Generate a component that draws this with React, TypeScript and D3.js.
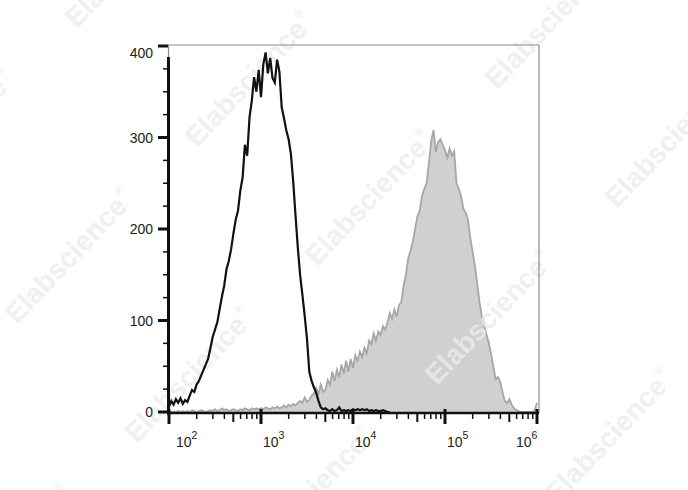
import React from 'react';
import * as d3 from 'd3';

// Histogram bins on a log10 axis: bin i sits at 10^(LOG_START + i*LOG_STEP)
const LOG_START = 2;
const LOG_STEP = 0.025;

// Isotype control (black line)
const blackCounts = [
  6, 12, 8, 14, 10, 15, 9, 13, 11, 18,
  24, 22, 30, 34, 40, 46, 52, 58, 70, 82,
  90, 98, 112, 126, 138, 156, 165, 178, 195, 210,
  220, 242, 256, 292, 280, 322, 340, 366, 350, 374,
  344, 380, 393, 370, 387, 365, 360, 385, 372, 333,
  321, 308, 298, 282, 252, 215, 180, 150, 128, 105,
  80, 44, 34, 27, 21, 12, 5, 3, 4, 2,
  1, 3, 1, 2, 5, 1, 2, 1, 2, 1,
  3, 2, 3, 2, 3, 2, 3, 1, 2, 1,
  2, 1, 1, 2, 1, 0, 0,
];

// Stained sample (gray filled)
const grayCounts = [
  0, 0, 0, 0, 1, 0, 1, 0, 1, 0,
  2, 1, 0, 1, 2, 1, 0, 1, 2, 1,
  3, 1, 2, 4, 2, 3, 1, 2, 3, 2,
  1, 3, 2, 4, 3, 2, 4, 3, 4, 3,
  4, 3, 5, 4, 3, 5, 4, 6, 4, 5,
  7, 5, 8, 6, 9, 7, 10, 12, 10, 16,
  11, 13, 18, 20, 26, 20, 30, 22, 24, 35,
  30, 44, 34, 46, 38, 52, 42, 56, 44, 58,
  48, 62, 56, 66, 60, 70, 64, 78, 74, 86,
  78, 88, 84, 94, 90, 98, 108, 102, 112, 104,
  117, 120, 138, 150, 168, 176, 186, 200, 214, 220,
  236, 244, 250, 272, 296, 308, 284, 295, 298, 292,
  286, 278, 288, 280, 285, 250, 244, 236, 222, 218,
  210, 190, 175, 160, 140, 120, 105, 95, 85, 76,
  64, 50, 36, 38, 33, 22, 12, 10, 14, 8,
  4, 2, 1, 0, 0, 0, 0, 0, 0, 2,
  10,
];

const yMajorTicks = [0, 100, 200, 300, 400];
const yMinorTicks = [25, 50, 75, 125, 150, 175, 225, 250, 275, 325, 350, 375];
const xDecades = [2, 3, 4, 5, 6];
const xMinorMultipliers = [2, 3, 4, 5, 6, 7, 8, 9];

const WATERMARK = 'Elabscience';
const FONT = "'Liberation Sans', Arial, Helvetica, sans-serif";

export default function App() {
  const W = 688;
  const H = 490;
  const left = 168;
  const right = 539;
  const top = 45;
  const bottom = 413;

  const x = d3.scaleLog().domain([1e2, 1e6]).range([169, 537]);
  const y = d3.scaleLinear().domain([0, 400]).range([412, 46]);

  const toPts = (arr: number[]) =>
    arr.map((v, i) => [Math.pow(10, LOG_START + i * LOG_STEP), v] as [number, number]);

  const line = d3
    .line<[number, number]>()
    .x((d) => x(d[0]))
    .y((d) => y(d[1]));
  const area = d3
    .area<[number, number]>()
    .x((d) => x(d[0]))
    .y0(y(0) + 2)
    .y1((d) => y(d[1]));

  const grayPts = toPts(grayCounts);
  const blackPts = toPts(blackCounts);

  // watermark lattice (only those that show at least partly)
  const wm: [number, number][] = [];
  for (let i = -3; i <= 6; i++) {
    for (let j = -3; j <= 3; j++) {
      const px = 197 + i * 120 + j * 300;
      const py = 148 + i * 119 - j * 58;
      const ex = px + 125;
      const ey = py - 132;
      const visible = ex > 0 && px < W && py > 0 && ey < H;
      if (visible) wm.push([px, py]);
    }
  }

  const xMinor: { v: number; mid: boolean }[] = [];
  xDecades.slice(0, -1).forEach((d) =>
    xMinorMultipliers.forEach((k) => xMinor.push({ v: k * Math.pow(10, d), mid: k === 5 }))
  );

  return (
    <svg
      width={W}
      height={H}
      style={{ position: 'absolute', left: 0, top: 0, background: '#fff' }}
      fontFamily={FONT}
    >
      <defs>
        <clipPath id="plotclip">
          <rect x={left} y={top} width={right - left} height={bottom - top} />
        </clipPath>
      </defs>
      <rect x={0} y={0} width={W} height={H} fill="#fff" />

      {/* gray filled histogram */}
      <g clipPath="url(#plotclip)">
        <path d={area(grayPts) || ''} fill="#d0d0d0" stroke="none" />
        <path d={line(grayPts) || ''} fill="none" stroke="#a6a6a6" strokeWidth={1.8} />
      </g>

      {/* watermark */}
      <g>
        {wm.map(([px, py], idx) => (
          <text
            key={idx}
            transform={`translate(${px},${py}) rotate(-46.5)`}
            fontSize={28}
            fontWeight="bold"
            fill="#ececec"
            fillOpacity={0.8}
          >
            {WATERMARK}
            <tspan fontSize={11} dy={-15} dx={2}>
              ®
            </tspan>
          </text>
        ))}
      </g>

      {/* black line histogram */}
      <g clipPath="url(#plotclip)">
        <path d={line(blackPts) || ''} fill="none" stroke="#111" strokeWidth={2.2} strokeLinejoin="miter" />
      </g>

      {/* frame top / right */}
      <line x1={left} x2={right} y1={top} y2={top} stroke="#8a8a8a" strokeWidth={1.2} />
      <line x1={right} x2={right} y1={top} y2={bottom} stroke="#8a8a8a" strokeWidth={1.2} />
      <line x1={left + 0.5} x2={left + 0.5} y1={top} y2={58} stroke="#8a8a8a" strokeWidth={1.2} />

      {/* y axis */}
      <line x1={left + 0.5} x2={left + 0.5} y1={57} y2={bottom + 2} stroke="#111" strokeWidth={3} />
      {yMajorTicks.map((t) => (
        <line key={'ym' + t} x1={158} x2={left} y1={y(t)} y2={y(t)} stroke="#111" strokeWidth={3} />
      ))}
      {yMinorTicks.map((t) => (
        <line key={'yn' + t} x1={163} x2={left} y1={y(t)} y2={y(t)} stroke="#111" strokeWidth={1.5} />
      ))}
      {yMajorTicks.map((t) => (
        <text
          key={'yl' + t}
          x={153}
          y={Math.max(y(t), 53)}
          dy="0.36em"
          textAnchor="end"
          fontSize={14}
          fill="#222"
        >
          {t}
        </text>
      ))}

      {/* x axis */}
      <line x1={left - 1} x2={right} y1={bottom} y2={bottom} stroke="#111" strokeWidth={2.6} />
      {xDecades.map((d) => (
        <line
          key={'xm' + d}
          x1={x(Math.pow(10, d))}
          x2={x(Math.pow(10, d))}
          y1={bottom - 4}
          y2={bottom + 11}
          stroke="#111"
          strokeWidth={3}
        />
      ))}
      {xMinor.map((m, i) => (
        <line
          key={'xn' + i}
          x1={x(m.v)}
          x2={x(m.v)}
          y1={bottom}
          y2={bottom + (m.mid ? 9 : 6)}
          stroke="#111"
          strokeWidth={m.mid ? 2 : 1.5}
        />
      ))}
      {xDecades.map((d, i) => {
        const tx = x(Math.pow(10, d));
        const last = i === xDecades.length - 1;
        const sx = last ? tx - 21 : Math.max(tx + 2, 176);
        return (
          <text key={'xl' + d} x={sx} y={447} fontSize={14} fill="#222">
            10
            <tspan fontSize={10.5} dy={-8}>
              {d}
            </tspan>
          </text>
        );
      })}
    </svg>
  );
}
